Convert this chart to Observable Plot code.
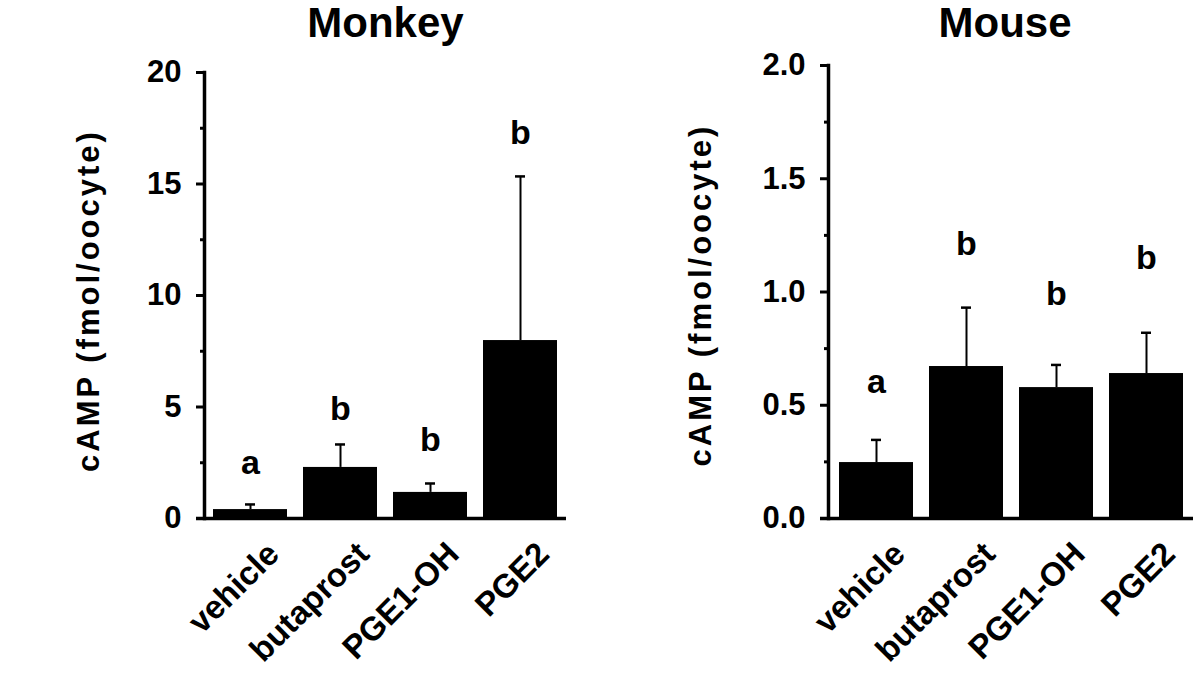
<!DOCTYPE html>
<html>
<head>
<meta charset="utf-8">
<script src="https://cdn.jsdelivr.net/npm/d3@7"></script>
<script src="https://cdn.jsdelivr.net/npm/@observablehq/plot@0.6"></script>
<style>
  html, body { margin: 0; padding: 0; background: #fff; }
  #wrap { position: relative; width: 1200px; height: 678px; overflow: hidden; background: #fff; }
  .panel { position: absolute; top: 0; width: 600px; height: 678px; }
  svg { font-family: "Liberation Sans", Arial, sans-serif; overflow: visible; }
</style>
</head>
<body>
<div id="wrap">
  <div class="panel" id="left" style="left:0px"></div>
  <div class="panel" id="right" style="left:600px"></div>
</div>
<script>
// ---- data ----
const categories = ["vehicle", "butaprost", "PGE1-OH", "PGE2"];
const letters = ["a", "b", "b", "b"];

const monkeyTitle = "Monkey";
const monkeyMean = [0.40, 2.29, 1.17, 7.98];
const monkeyErr = [0.23, 1.03, 0.40, 7.36];
const monkeyLetterY = [2.5, 4.9, 3.5, 17.3];
const monkeyTicks = [0, 5, 10, 15, 20];
const monkeyMinorTicks = [2.5, 7.5, 12.5, 17.5];

const mouseTitle = "Mouse";
const mouseMean = [0.247, 0.671, 0.578, 0.64];
const mouseErr = [0.10, 0.26, 0.10, 0.18];
const mouseLetterY = [0.60, 1.21, 0.99, 1.15];
const mouseTicks = [0, 0.5, 1.0, 1.5, 2.0];
const mouseMinorTicks = [0.25, 0.75, 1.25, 1.75];

const yLabel = "cAMP (fmol/oocyte)";

function panel(cfg) {
  const rows = categories.map((c, i) => ({
    cat: c, mean: cfg.mean[i], top: cfg.mean[i] + cfg.err[i],
    letter: letters[i], ly: cfg.letterY[i]
  }));
  const font = "Liberation Sans, Arial, sans-serif";
  return Plot.plot({
    width: 600, height: 678,
    marginLeft: cfg.ml, marginRight: cfg.mr, marginTop: cfg.mt, marginBottom: 160,
    style: { fontFamily: font, background: "transparent", overflow: "visible" },
    x: { domain: categories, axis: null, paddingInner: 0.18, paddingOuter: 0.1 },
    y: { domain: [0, cfg.ticks[cfg.ticks.length - 1]], axis: null },
    marks: [
      Plot.barY(rows, { x: "cat", y: "mean", fill: "black" }),
      Plot.ruleX(rows, { x: "cat", y1: "mean", y2: "top", stroke: "black", strokeWidth: 2 }),
      Plot.tickY(rows, { x: "cat", y: "top", stroke: "black", strokeWidth: 2.5, insetLeft: 32, insetRight: 32 }),
      Plot.text(rows, { x: "cat", y: "ly", text: "letter", fontSize: 34, fontWeight: "bold", fill: "black" }),
      Plot.frame({ anchor: "left", stroke: "black", strokeWidth: 3.5 }),
      Plot.ruleY([0], { stroke: "black", strokeWidth: 3.5, insetLeft: -8 }),
      Plot.axisY({ ticks: cfg.ticks, tickSize: 8, tickPadding: 15, strokeWidth: 3, fontSize: 31, fontWeight: "bold",
        tickFormat: cfg.fmt, label: null, fill: "black" }),
      Plot.axisY({ ticks: cfg.minor, tickSize: 4, strokeWidth: 3, text: null, label: null }),
      Plot.text(categories, { x: d => d, frameAnchor: "bottom", rotate: -45, textAnchor: "end", lineAnchor: "middle",
        dx: 23, dy: 30, fontSize: 33, fontWeight: "bold", fill: "black" }),
      Plot.text([yLabel], { frameAnchor: "left", rotate: -90, textAnchor: "middle", lineAnchor: "middle",
        dx: cfg.ydx, dy: cfg.ydy, fontSize: 31, fontWeight: "bold", fill: "black" }),
      Plot.text([cfg.title], { frameAnchor: "top", lineAnchor: "middle", dx: cfg.tdx, dy: cfg.tdy,
        fontSize: 42, fontWeight: "bold", fill: "black" })
    ]
  });
}

document.getElementById("left").appendChild(panel({
  mean: monkeyMean, err: monkeyErr, letterY: monkeyLetterY, ticks: monkeyTicks, minor: monkeyMinorTicks,
  fmt: d3.format("d"), title: monkeyTitle,
  ml: 204, mr: 34, mt: 72, ydx: -115, ydy: 5, tdx: 0, tdy: -49
}));
document.getElementById("right").appendChild(panel({
  mean: mouseMean, err: mouseErr, letterY: mouseLetterY, ticks: mouseTicks, minor: mouseMinorTicks,
  fmt: d3.format(".1f"), title: mouseTitle,
  ml: 228, mr: 7, mt: 65, ydx: -127, ydy: 3, tdx: -6, tdy: -42
}));
// letter spacing on the y labels to match the reference's wide lettering
document.querySelectorAll("svg text").forEach(t => {
  if (t.textContent === yLabel) t.setAttribute("letter-spacing", "3");
});
</script>
</body>
</html>
